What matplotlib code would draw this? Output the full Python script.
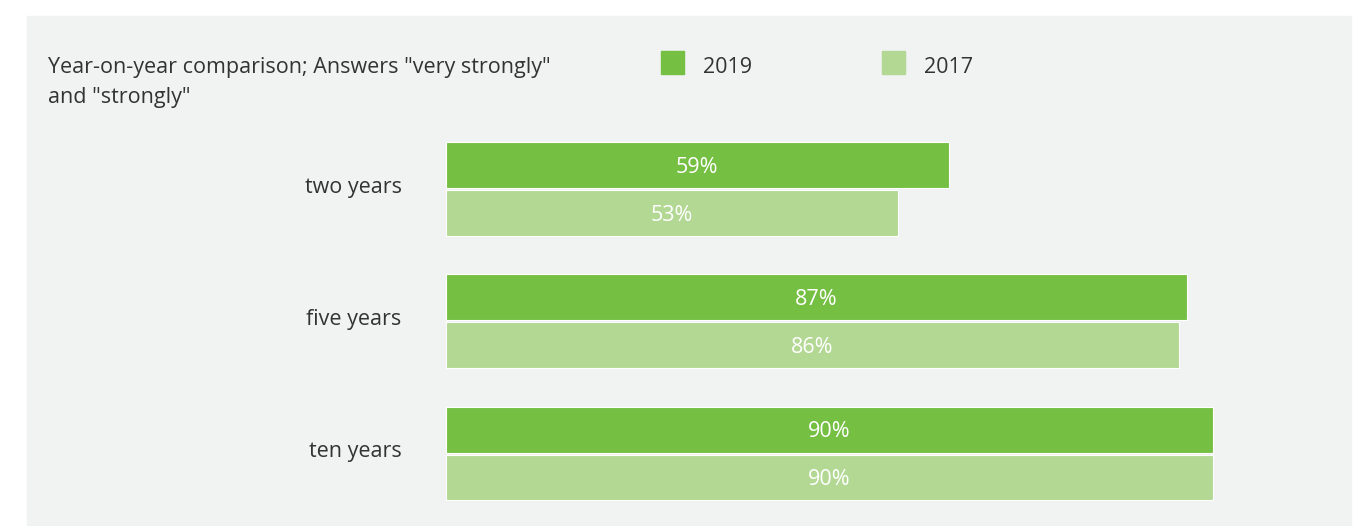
import matplotlib.pyplot as plt
from matplotlib.patches import Rectangle

plt.rcParams['font.family'] = ['Open Sans', 'DejaVu Sans']

categories = ['two years', 'five years', 'ten years']
share_2019 = [59, 87, 90]
share_2017 = [53, 86, 90]
series_names = ['2019', '2017']

green_dark = '#75bf43'
green_light = '#b3d894'
panel_bg = '#f1f2f2'
text_col = '#333333'
fs = 15.5

W, H = 1358, 526
fig = plt.figure(figsize=(W / 100, H / 100), dpi=100, facecolor='white')


def fx(px):
    return px / W


def fy(py):
    return 1 - py / H


# grey panel behind everything
fig.patches.append(Rectangle((fx(27), 0), fx(1351) - fx(27), fy(16),
                             transform=fig.transFigure, color=panel_bg, zorder=-5))

# title, two lines
fig.text(fx(48), fy(73), 'Year-on-year comparison; Answers "very strongly"',
         fontsize=fs, color=text_col, va='baseline')
fig.text(fx(48), fy(103), 'and "strongly"', fontsize=fs, color=text_col, va='baseline')

# legend
for name, col, x0 in zip(series_names, [green_dark, green_light], [661, 882]):
    fig.patches.append(Rectangle((fx(x0), fy(74)), fx(23), 23 / H,
                                 transform=fig.transFigure, color=col, zorder=1))
    fig.text(fx(x0 + 42), fy(73), name, fontsize=fs, color=text_col, va='baseline')

# bars
top_px, bot_px = 120, 520
step = 132.25
ax = fig.add_axes([fx(446), fy(bot_px), fx(852), (bot_px - top_px) / H])
ax.set_zorder(2)
ax.set_facecolor('none')
ax.set_xlim(0, 100)
ax.set_ylim((bot_px - 189) / step, (top_px - 189) / step)

h = 46 / step
off = 24 / step
ypos = list(range(len(categories)))
ax.barh([y - off for y in ypos], share_2019, height=h, color=green_dark,
        edgecolor='white', linewidth=0.8)
ax.barh([y + off for y in ypos], share_2017, height=h, color=green_light,
        edgecolor='white', linewidth=0.8)

lift = 2 / step
for y, v in zip(ypos, share_2019):
    ax.text(v / 2, y - off + lift, f'{v}%', ha='center', va='center', color='white', fontsize=fs)
for y, v in zip(ypos, share_2017):
    ax.text(v / 2, y + off + lift, f'{v}%', ha='center', va='center', color='white', fontsize=fs)

# category names sit a touch above the group centre
ax.set_yticks([y - 4 / step for y in ypos])
ax.set_yticklabels(categories, fontsize=fs, color=text_col)
ax.tick_params(axis='y', length=0, pad=32)
ax.set_xticks([])
for s in ax.spines.values():
    s.set_visible(False)

fig.savefig('out.png', dpi=100, facecolor='white')
